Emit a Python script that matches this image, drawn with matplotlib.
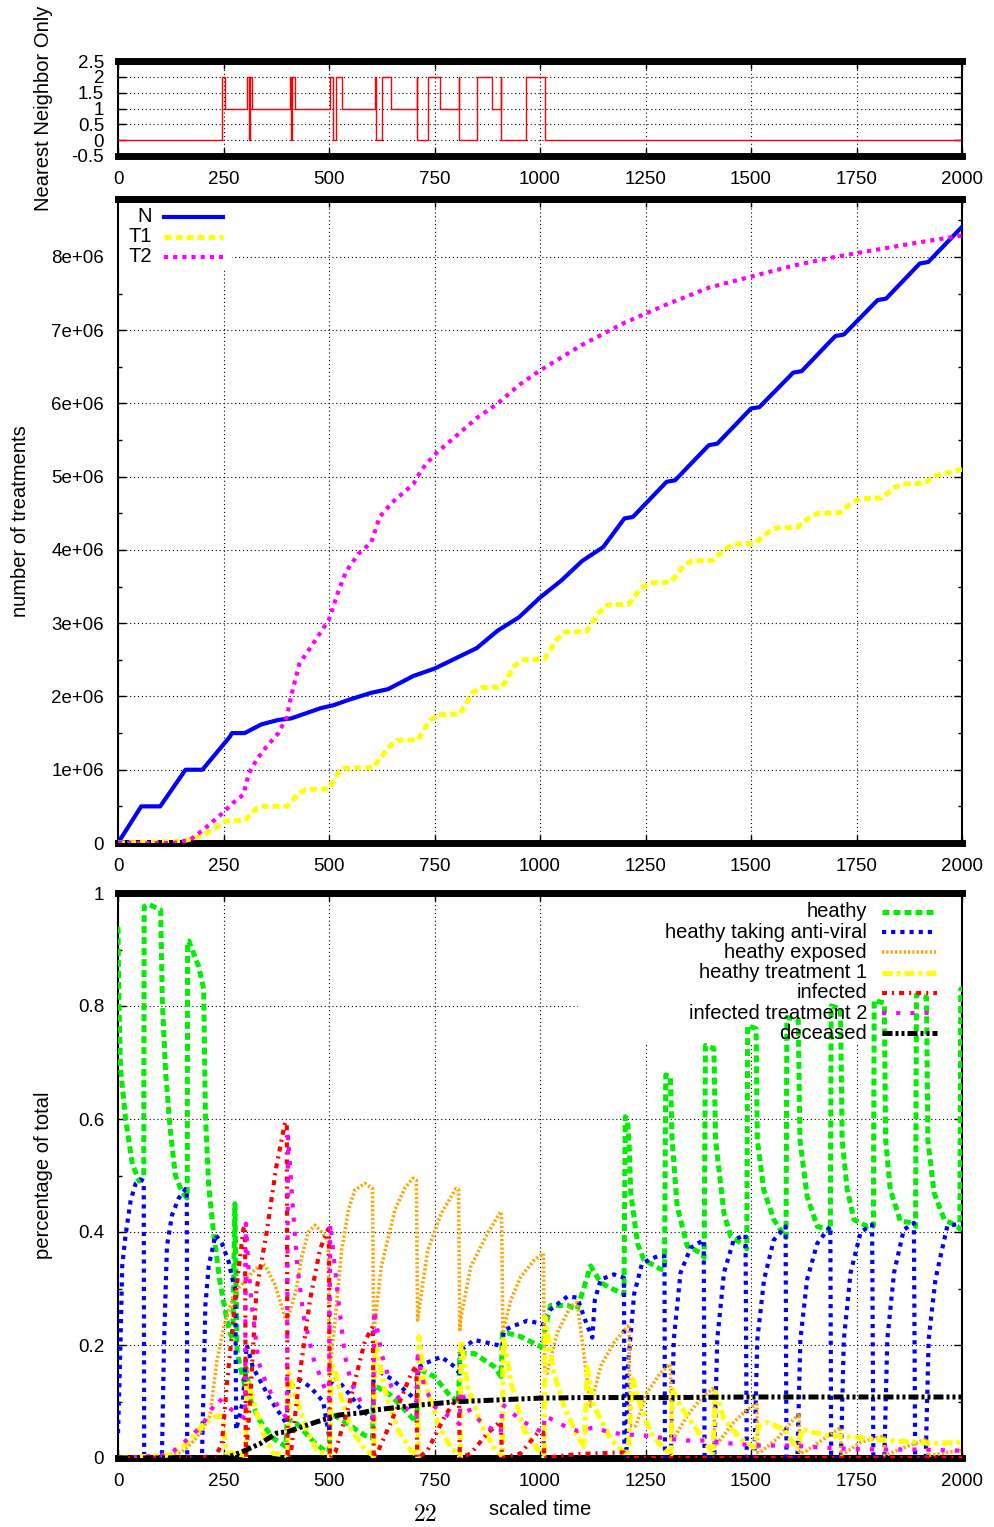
import matplotlib
matplotlib.use("Agg")
import matplotlib.pyplot as plt
from matplotlib.patches import Rectangle

# ---------------- data ----------------
# top panel: nearest neighbour switch, values at change points (steps-post)
nn_t = [0, 247, 254, 305, 310, 312, 317, 407, 410, 412, 420, 502, 509, 516, 530,
        608, 611, 625, 646, 708, 709, 734, 762, 808, 809, 851, 887, 907, 908,
        967, 1012, 2000]
nn_v = [0, 2, 1, 2, 0, 2, 1, 2, 0, 2, 1, 2, 0, 2, 1,
        2, 0, 2, 1, 2, 0, 2, 1, 2, 0, 2, 1, 2, 0,
        2, 0, 0]

# middle panel: number of treatments (units of 1e6)
n_t = [0, 55, 100, 160, 200, 265, 270, 300, 340, 380, 410, 450, 480, 510, 550, 600,
       640, 700, 750, 800, 850, 900, 950, 1000, 1050, 1100, 1150, 1200, 1220, 1300,
       1320, 1400, 1420, 1500, 1520, 1600, 1620, 1700, 1720, 1800, 1820, 1900, 1920, 2000]
n_v = [0, 0.5, 0.5, 1.0, 1.0, 1.45, 1.5, 1.5, 1.62, 1.68, 1.70, 1.78, 1.84, 1.88, 1.96, 2.05,
       2.10, 2.28, 2.38, 2.52, 2.66, 2.90, 3.08, 3.35, 3.58, 3.85, 4.04, 4.43, 4.45, 4.93,
       4.95, 5.43, 5.45, 5.93, 5.95, 6.42, 6.44, 6.92, 6.94, 7.41, 7.43, 7.91, 7.93, 8.41]

t1_t = [0, 150, 200, 250, 255, 300, 330, 340, 400, 430, 445, 500, 525, 535, 605, 640,
        660, 710, 740, 760, 810, 840, 860, 910, 940, 960, 1010, 1040, 1060, 1110, 1140,
        1160, 1210, 1240, 1260, 1310, 1340, 1360, 1410, 1440, 1460, 1510, 1540, 1560,
        1610, 1640, 1660, 1710, 1740, 1760, 1810, 1840, 1860, 1910, 1940, 2000]
t1_v = [0, 0.02, 0.1, 0.28, 0.3, 0.31, 0.48, 0.5, 0.5, 0.68, 0.73, 0.74, 0.98, 1.02, 1.03, 1.3,
        1.4, 1.41, 1.68, 1.75, 1.76, 2.05, 2.12, 2.13, 2.42, 2.5, 2.51, 2.78, 2.88, 2.89, 3.15,
        3.25, 3.26, 3.48, 3.55, 3.56, 3.78, 3.85, 3.86, 4.02, 4.08, 4.09, 4.24, 4.3,
        4.31, 4.45, 4.5, 4.51, 4.65, 4.7, 4.71, 4.85, 4.9, 4.91, 5.02, 5.1]

t2_t = [0, 130, 170, 202, 250, 273, 297, 310, 330, 350, 380, 400, 410, 430, 460, 500,
        520, 540, 570, 600, 620, 650, 700, 720, 750, 800, 850, 900, 950, 1000, 1100,
        1200, 1300, 1400, 1500, 1600, 1700, 1800, 1900, 2000]
t2_v = [0, 0.0, 0.04, 0.18, 0.42, 0.55, 0.66, 0.95, 1.15, 1.3, 1.5, 1.72, 2.0, 2.45, 2.7, 3.05,
        3.4, 3.7, 3.95, 4.1, 4.45, 4.65, 4.9, 5.1, 5.3, 5.55, 5.8, 6.0, 6.25, 6.45, 6.8,
        7.1, 7.35, 7.58, 7.73, 7.88, 8.0, 8.1, 8.2, 8.29]

# bottom panel: fractions of the population
healthy_t = [0, 2, 6, 18, 34, 50, 61, 62, 73, 101, 105, 113, 124, 136, 152, 164, 165, 168,
             191, 203, 207, 215, 227, 242, 258, 266, 272, 277, 282, 290, 300, 303, 315, 336,
             368, 398, 401, 425, 463, 486, 500, 503, 514, 545, 585, 603, 606, 616, 648, 687,
             708, 711, 718, 750, 789, 807, 810, 817, 844, 891, 908, 911, 923, 954, 994, 1008,
             1012, 1025, 1065, 1088, 1120, 1144, 1175, 1199, 1202, 1207, 1211, 1215, 1231,
             1246, 1286, 1295, 1298, 1309, 1313, 1325, 1349, 1381, 1389, 1392, 1412, 1416,
             1436, 1452, 1487, 1490, 1492, 1512, 1515, 1530, 1554, 1580, 1583, 1585, 1612,
             1616, 1633, 1657, 1685, 1688, 1690, 1712, 1716, 1728, 1744, 1775, 1787, 1790,
             1792, 1816, 1819, 1830, 1854, 1886, 1890, 1892, 1916, 1919, 1934, 1958, 1989,
             1995, 1997, 2000]
healthy_v = [0.94, 0.81, 0.69, 0.60, 0.52, 0.49, 0.50, 0.976, 0.98, 0.97, 0.81, 0.68, 0.58,
             0.50, 0.47, 0.46, 0.915, 0.915, 0.87, 0.83, 0.61, 0.48, 0.395, 0.31, 0.245, 0.22,
             0.21, 0.45, 0.19, 0.16, 0.13, 0.16, 0.10, 0.066, 0.035, 0.02, 0.07, 0.06, 0.029,
             0.015, 0.01, 0.08, 0.075, 0.06, 0.04, 0.035, 0.125, 0.125, 0.11, 0.079, 0.062,
             0.156, 0.156, 0.144, 0.108, 0.1, 0.185, 0.185, 0.185, 0.162, 0.144, 0.221, 0.221,
             0.215, 0.2, 0.195, 0.23, 0.27, 0.27, 0.263, 0.34, 0.31, 0.298, 0.29, 0.604, 0.6,
             0.56, 0.47, 0.38, 0.351, 0.334, 0.334, 0.678, 0.675, 0.563, 0.445, 0.375, 0.363,
             0.355, 0.73, 0.725, 0.563, 0.433, 0.392, 0.375, 0.37, 0.765, 0.76, 0.563, 0.475,
             0.422, 0.392, 0.39, 0.78, 0.775, 0.563, 0.463, 0.41, 0.404, 0.40, 0.80, 0.795,
             0.563, 0.475, 0.422, 0.41, 0.413, 0.41, 0.81, 0.805, 0.563, 0.475, 0.419, 0.416,
             0.41, 0.82, 0.815, 0.563, 0.469, 0.422, 0.41, 0.405, 0.83, 0.83]

antiviral_t = [0, 6, 10, 18, 30, 42, 54, 61, 62, 104, 109, 116, 128, 144, 160, 163, 164, 199,
               207, 215, 231, 246, 262, 274, 278, 280, 296, 305, 320, 360, 391, 400, 404, 431,
               455, 486, 500, 503, 514, 546, 577, 603, 606, 612, 648, 695, 708, 711, 726, 766,
               797, 809, 812, 821, 844, 899, 911, 914, 931, 970, 1002, 1008, 1012, 1025, 1065,
               1088, 1112, 1124, 1130, 1144, 1175, 1199, 1200, 1205, 1207, 1223, 1242, 1278,
               1295, 1296, 1310, 1317, 1333, 1357, 1388, 1390, 1413, 1420, 1436, 1459, 1487,
               1490, 1508, 1515, 1531, 1554, 1582, 1584, 1610, 1617, 1633, 1657, 1688, 1690,
               1713, 1720, 1736, 1760, 1787, 1790, 1816, 1823, 1839, 1862, 1886, 1889, 1914,
               1921, 1937, 1965, 2000]
antiviral_v = [0.044, 0.206, 0.34, 0.395, 0.456, 0.486, 0.493, 0.49, 0.0, 0.0, 0.2, 0.375,
               0.43, 0.46, 0.476, 0.476, 0.0, 0.0, 0.27, 0.34, 0.395, 0.38, 0.348, 0.307, 0.30,
               0.05, 0.1, 0.2, 0.16, 0.105, 0.07, 0.06, 0.125, 0.138, 0.126, 0.10, 0.04, 0.13,
               0.144, 0.115, 0.085, 0.07, 0.15, 0.156, 0.14, 0.11, 0.1, 0.16, 0.167, 0.179, 0.162,
               0.15, 0.19, 0.196, 0.209, 0.2, 0.197, 0.225, 0.232, 0.243, 0.238, 0.236, 0.25,
               0.263, 0.286, 0.284, 0.234, 0.213, 0.28, 0.316, 0.325, 0.319, 0.0, 0.0, 0.15,
               0.29, 0.345, 0.357, 0.357, 0.0, 0.0, 0.21, 0.328, 0.372, 0.386, 0.0, 0.0, 0.21,
               0.328, 0.386, 0.395, 0.0, 0.0, 0.21, 0.316, 0.386, 0.41, 0.0, 0.0, 0.21, 0.316,
               0.38, 0.41, 0.0, 0.0, 0.21, 0.328, 0.40, 0.413, 0.0, 0.0, 0.21, 0.328, 0.404,
               0.416, 0.0, 0.0, 0.21, 0.316, 0.41, 0.416]

exposed_t = [0, 100, 150, 180, 200, 218, 234, 250, 262, 278, 297, 325, 344, 349, 372, 391,
             400, 404, 423, 435, 451, 467, 482, 498, 501, 514, 530, 546, 561, 585, 603, 606,
             612, 624, 656, 680, 699, 707, 710, 713, 734, 766, 801, 807, 810, 813, 836, 876,
             907, 909, 912, 931, 954, 986, 1008, 1011, 1017, 1041, 1073, 1088, 1120, 1144,
             1175, 1211, 1213, 1227, 1254, 1286, 1309, 1312, 1321, 1349, 1380, 1412, 1414,
             1420, 1459, 1491, 1514, 1516, 1525, 1562, 1594, 1614, 1616, 1630, 1673, 1712,
             1714, 1725, 1760, 1815, 1817, 1830, 1854, 1917, 1919, 1935, 1965, 2000]
exposed_v = [0.0, 0.003, 0.01, 0.03, 0.05, 0.075, 0.17, 0.23, 0.26, 0.294, 0.31, 0.334, 0.343,
             0.34, 0.307, 0.26, 0.24, 0.25, 0.30, 0.355, 0.40, 0.412, 0.40, 0.385, 0.15, 0.24,
             0.368, 0.439, 0.474, 0.486, 0.477, 0.22, 0.26, 0.339, 0.439, 0.478, 0.495, 0.492,
             0.244, 0.26, 0.368, 0.433, 0.477, 0.475, 0.227, 0.25, 0.339, 0.398, 0.436, 0.43,
             0.221, 0.28, 0.32, 0.35, 0.362, 0.15, 0.15, 0.222, 0.269, 0.275, 0.092, 0.163,
             0.204, 0.236, 0.057, 0.057, 0.116, 0.151, 0.166, 0.04, 0.04, 0.075, 0.104, 0.125,
             0.02, 0.025, 0.063, 0.086, 0.095, 0.01, 0.012, 0.034, 0.063, 0.078, 0.008, 0.012,
             0.034, 0.054, 0.006, 0.01, 0.028, 0.039, 0.005, 0.008, 0.016, 0.034, 0.004, 0.006,
             0.01, 0.013]

treat1_t = [0, 120, 160, 199, 230, 242, 250, 255, 300, 302, 305, 320, 344, 368, 400, 402,
            406, 412, 423, 447, 471, 500, 502, 505, 514, 530, 553, 585, 604, 606, 608, 612,
            632, 663, 695, 709, 711, 713, 726, 758, 789, 809, 811, 813, 829, 860, 891, 909,
            911, 913, 931, 962, 994, 1008, 1010, 1012, 1033, 1057, 1088, 1105, 1112, 1128,
            1167, 1199, 1208, 1220, 1238, 1262, 1294, 1310, 1313, 1333, 1365, 1396, 1410,
            1416, 1436, 1475, 1507, 1519, 1538, 1578, 1610, 1621, 1649, 1688, 1744, 1783,
            1823, 1886, 1933, 2000]
treat1_v = [0, 0.005, 0.024, 0.057, 0.073, 0.075, 0.06, 0.01, 0.005, 0.0, 0.138, 0.103,
            0.044, 0.008, 0.005, 0.0, 0.15, 0.13, 0.104, 0.05, 0.014, 0.005, 0.0, 0.17, 0.155,
            0.105, 0.05, 0.015, 0.005, 0.0, 0.21, 0.2, 0.12, 0.05, 0.012, 0.005, 0.0, 0.215,
            0.14, 0.06, 0.018, 0.005, 0.0, 0.209, 0.125, 0.06, 0.018, 0.005, 0.0, 0.215, 0.135,
            0.05, 0.015, 0.005, 0.0, 0.25, 0.151, 0.092, 0.039, 0.02, 0.16, 0.092, 0.034, 0.01,
            0.005, 0.14, 0.092, 0.045, 0.016, 0.005, 0.122, 0.092, 0.057, 0.022, 0.01, 0.116,
            0.069, 0.034, 0.019, 0.057, 0.063, 0.051, 0.016, 0.051, 0.045, 0.039, 0.037,
            0.034, 0.031, 0.028, 0.026, 0.028]

infected_t = [0, 230, 246, 258, 270, 281, 290, 297, 301, 303, 305, 313, 328, 352, 375, 396,
              400, 402, 410, 431, 455, 479, 498, 500, 502, 515, 530, 546, 561, 585, 604, 606,
              615, 624, 663, 695, 707, 709, 720, 734, 774, 801, 808, 810, 836, 876, 907, 910,
              954, 994, 1008, 1010, 1088, 1199, 1210, 2000]
infected_v = [0, 0.002, 0.024, 0.13, 0.22, 0.304, 0.36, 0.405, 0.41, 0.0, 0.02, 0.1, 0.297,
              0.398, 0.515, 0.595, 0.59, 0.0, 0.01, 0.15, 0.28, 0.37, 0.405, 0.40, 0.0, 0.01,
              0.05, 0.09, 0.135, 0.207, 0.233, 0.0, 0.01, 0.025, 0.091, 0.15, 0.163, 0.0, 0.005,
              0.014, 0.073, 0.105, 0.105, 0.0, 0.008, 0.044, 0.065, 0.0, 0.008, 0.044, 0.045,
              0.0, 0.007, 0.01, 0.0, 0.0]

treat2_t = [0, 120, 160, 199, 215, 238, 254, 270, 290, 301, 303, 309, 317, 333, 352, 380,
            400, 403, 413, 425, 440, 464, 488, 500, 503, 522, 538, 553, 585, 605, 607, 624,
            648, 679, 707, 710, 726, 750, 797, 809, 812, 836, 876, 907, 911, 954, 994, 1008,
            1011, 1057, 1088, 1128, 1167, 1199, 1262, 1302, 1349, 1396, 1459, 1522, 1594,
            1657, 1736, 1815, 1894, 2000]
treat2_v = [0, 0.005, 0.03, 0.057, 0.078, 0.105, 0.095, 0.085, 0.075, 0.07, 0.415, 0.34,
            0.27, 0.17, 0.13, 0.09, 0.07, 0.569, 0.457, 0.339, 0.25, 0.174, 0.127, 0.105, 0.415,
            0.28, 0.18, 0.132, 0.085, 0.067, 0.262, 0.186, 0.126, 0.091, 0.073, 0.18, 0.126,
            0.091, 0.067, 0.06, 0.12, 0.079, 0.055, 0.044, 0.095, 0.067, 0.05, 0.046, 0.075,
            0.057, 0.048, 0.054, 0.045, 0.042, 0.039, 0.034, 0.031, 0.031, 0.025, 0.022, 0.022,
            0.019, 0.016, 0.015, 0.015, 0.013]

deceased_t = [0, 250, 262, 297, 336, 376, 404, 423, 451, 471, 506, 522, 577, 608, 703, 718,
              805, 813, 907, 1001, 1100, 1300, 1500, 1750, 2000]
deceased_v = [0, 0.0, 0.002, 0.012, 0.025, 0.044, 0.047, 0.052, 0.059, 0.064, 0.072, 0.076,
              0.08, 0.085, 0.093, 0.094, 0.1, 0.1, 0.103, 0.106, 0.107, 0.107, 0.108, 0.108,
              0.108]

x_ticks = [0, 250, 500, 750, 1000, 1250, 1500, 1750, 2000]
top_yticks = [-0.5, 0, 0.5, 1, 1.5, 2, 2.5]
top_ylabels = ["-0.5", "0", "0.5", "1", "1.5", "2", "2.5"]
mid_yticks = [0, 1e6, 2e6, 3e6, 4e6, 5e6, 6e6, 7e6, 8e6]
mid_ylabels = ["0", "1e+06", "2e+06", "3e+06", "4e+06", "5e+06", "6e+06", "7e+06", "8e+06"]
bot_yticks = [0, 0.2, 0.4, 0.6, 0.8, 1]
bot_ylabels = ["0", "0.2", "0.4", "0.6", "0.8", "1"]

TXT = 14.5


def style_axes(ax):
    ax.set_xlim(0, 2000)
    ax.set_xticks(x_ticks)
    ax.set_xticklabels([str(v) for v in x_ticks])
    ax.tick_params(which="both", direction="in", top=True, right=True, pad=11,
                   labelsize=13.5, width=1)
    ax.tick_params(axis="y", pad=10)
    ax.tick_params(which="major", length=6)
    ax.tick_params(which="minor", length=3)
    ax.grid(True, which="major", color="black", lw=0.8, ls=(0, (1, 2.5)))
    for s in ["top", "bottom"]:
        ax.spines[s].set_linewidth(5)
    for s in ["left", "right"]:
        ax.spines[s].set_linewidth(1.5)


def key(ax, entries, x_text, x0, x1, y0, dy):
    # gnuplot style key: right aligned text, sample to its right
    for i, (lab, kw) in enumerate(entries):
        y = y0 - i * dy
        ax.text(x_text, y, lab, transform=ax.transAxes, ha="right", va="center",
                fontsize=TXT, zorder=6)
        ax.plot([x0, x1], [y, y], transform=ax.transAxes, clip_on=False, zorder=6, **kw)


def main():
    plt.rcParams["font.family"] = ["Liberation Sans", "DejaVu Sans"]
    plt.rcParams["mathtext.fontset"] = "cm"

    fig = plt.figure(figsize=(9.94, 15.27), dpi=100)
    left, width = 118 / 994, 844 / 994
    ax1 = fig.add_axes([left, 1 - 156 / 1527, width, 95 / 1527])
    ax2 = fig.add_axes([left, 1 - 843 / 1527, width, 644 / 1527])
    ax3 = fig.add_axes([left, 1 - 1458 / 1527, width, 565 / 1527])

    # ---- top
    ax1.plot(nn_t, nn_v, drawstyle="steps-post", color="red", lw=1, zorder=3)
    style_axes(ax1)
    ax1.set_ylim(-0.5, 2.5)
    ax1.set_yticks(top_yticks)
    ax1.set_yticklabels(top_ylabels)
    ax1.set_ylabel("Nearest Neighbor Only", fontsize=TXT)
    ax1.yaxis.set_label_coords(-0.077, 0.5)

    # ---- middle
    sty_n = dict(color="blue", lw=3)
    sty_t1 = dict(color="yellow", lw=3.6, ls=(0, (1.4, 0.8)))
    sty_t2 = dict(color="magenta", lw=3, ls=(0, (1, 1.2)))
    ax2.plot(n_t, [v * 1e6 for v in n_v], zorder=3, **sty_n)
    ax2.plot(t1_t, [v * 1e6 for v in t1_v], zorder=3, **sty_t1)
    ax2.plot(t2_t, [v * 1e6 for v in t2_v], zorder=3, **sty_t2)
    style_axes(ax2)
    ax2.set_ylim(0, 8.79e6)
    ax2.set_yticks(mid_yticks)
    ax2.set_yticklabels(mid_ylabels)
    ax2.set_yticks([v + 0.5e6 for v in mid_yticks], minor=True)
    ax2.set_ylabel("number of treatments", fontsize=TXT)
    ax2.yaxis.set_label_coords(-0.104, 0.5)
    ax2.add_patch(Rectangle((0, 0.89), 0.135, 0.11, transform=ax2.transAxes,
                            facecolor="white", edgecolor="none", zorder=1.7))
    key(ax2, [("N", sty_n), ("T1", sty_t1), ("T2", sty_t2)],
        0.0403, 0.0545, 0.1244, 0.9726, 0.031)

    # ---- bottom
    sty = [
        ("heathy", healthy_t, healthy_v, dict(color="#00ee00", lw=3.6, ls=(0, (1.4, 0.8)))),
        ("heathy taking anti-viral", antiviral_t, antiviral_v,
         dict(color="blue", lw=3, ls=(0, (1, 1.2)))),
        ("heathy exposed", exposed_t, exposed_v, dict(color="#ffa500", lw=2.6, ls=(0, (0.6, 0.6)))),
        ("heathy treatment 1", treat1_t, treat1_v,
         dict(color="yellow", lw=3.6, ls=(0, (2, 0.8, 0.8, 0.8)))),
        ("infected", infected_t, infected_v,
         dict(color="red", lw=3, ls=(0, (1.2, 1.2, 0.5, 1.2)))),
        ("infected treatment 2", treat2_t, treat2_v,
         dict(color="magenta", lw=3, ls=(0, (1, 2.4)))),
        ("deceased", deceased_t, deceased_v,
         dict(color="black", lw=3.6, ls=(0, (2, 0.6, 0.6, 0.6, 0.6, 0.6)))),
    ]
    for lab, xs, ys, kw in sty:
        ax3.plot(xs, ys, zorder=3, **kw)
    style_axes(ax3)
    ax3.set_ylim(0, 1)
    ax3.set_yticks(bot_yticks)
    ax3.set_yticklabels(bot_ylabels)
    ax3.set_yticks([0.1, 0.3, 0.5, 0.7, 0.9], minor=True)
    ax3.set_ylabel("percentage of total", fontsize=TXT)
    ax3.yaxis.set_label_coords(-0.077, 0.5)
    ax3.set_xlabel("scaled time", fontsize=TXT)
    ax3.xaxis.set_label_coords(0.5, -0.074)
    ax3.add_patch(Rectangle((0.545, 0.731), 0.455, 0.269, transform=ax3.transAxes,
                            facecolor="white", edgecolor="none", zorder=1.7))
    key(ax3, [(lab, kw) for lab, xs, ys, kw in sty],
        0.8874, 0.905, 0.970, 0.9664, 0.0358)

    fig.text(425 / 994, 1 - 1515 / 1527, r"$22$", ha="center", va="center", fontsize=17)

    fig.savefig("out.png", dpi=100)


if __name__ == "__main__":
    main()
